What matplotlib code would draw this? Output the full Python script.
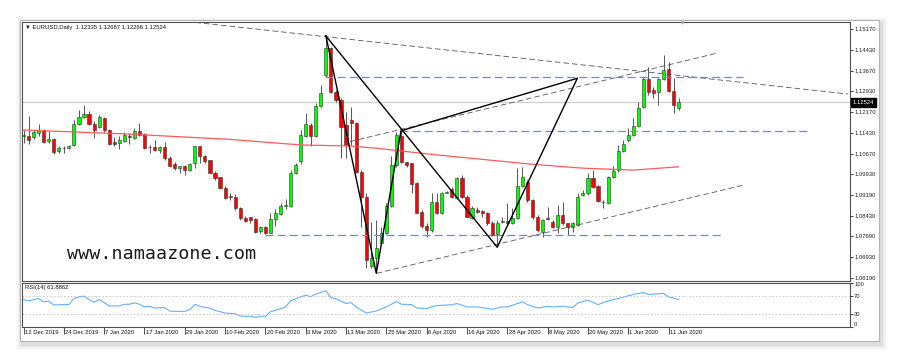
import matplotlib
matplotlib.use("Agg")
import matplotlib.pyplot as plt
from matplotlib import patches, transforms

plt.rcParams['font.family'] = ['Liberation Sans', 'DejaVu Sans']
plt.rcParams['lines.scale_dashes'] = False

# EURUSD daily candles, bar 0 = 12 Dec 2019
opens = [1.1130, 1.1130, 1.1128, 1.1142, 1.1152, 1.1112, 1.1122, 1.1076, 1.1088, 1.1088,
         1.1098, 1.1174, 1.1200, 1.1212, 1.1176, 1.1164, 1.1196, 1.1153, 1.1108, 1.1105,
         1.1112, 1.1132, 1.1125, 1.1149, 1.1137, 1.1093, 1.1093, 1.1081, 1.1093, 1.1052,
         1.1030, 1.1017, 1.1022, 1.1008, 1.1032, 1.1094, 1.1059, 1.1044, 1.0999, 1.0982,
         1.0945, 1.0914, 1.0912, 1.0870, 1.0836, 1.0837, 1.0831, 1.0787, 1.0801, 1.0782,
         1.0830, 1.0849, 1.0878, 1.0880, 1.0999, 1.1040, 1.1131, 1.1171, 1.1131, 1.1240,
         1.1352, 1.1448, 1.1292, 1.1261, 1.1171, 1.1189, 1.1177, 1.1002, 1.0912, 1.0662,
         1.0689, 1.0745, 1.0779, 1.0879, 1.1027, 1.1130, 1.1036, 1.1033, 1.0960, 1.0858,
         1.0806, 1.0792, 1.0894, 1.0854, 1.0926, 1.0940, 1.0906, 1.0978, 1.0910, 1.0834,
         1.0864, 1.0861, 1.0854, 1.0818, 1.0777, 1.0819, 1.0825, 1.0816, 1.0834, 1.0951,
         1.0966, 1.0900, 1.0840, 1.0785, 1.0834, 1.0822, 1.0804, 1.0846, 1.0816, 1.0804,
         1.0810, 1.0918, 1.0924, 1.0978, 1.0950, 1.0894, 1.0890, 1.0982, 1.1008, 1.1078,
         1.1117, 1.1135, 1.1167, 1.1235, 1.1336, 1.1298, 1.1292, 1.1336, 1.1372, 1.1295,
         1.12335]
highs = [1.1154, 1.1202, 1.1154, 1.1176, 1.1156, 1.1148, 1.1124, 1.1096, 1.1094, 1.1100,
         1.1190, 1.1224, 1.1244, 1.1220, 1.1184, 1.1207, 1.1200, 1.1156, 1.1126, 1.1130,
         1.1144, 1.1142, 1.1160, 1.1177, 1.1141, 1.1100, 1.1116, 1.1096, 1.1108, 1.1058,
         1.1036, 1.1024, 1.1027, 1.1034, 1.1096, 1.1096, 1.1063, 1.1046, 1.1003, 1.0984,
         1.0950, 1.0924, 1.0922, 1.0876, 1.0842, 1.0840, 1.0834, 1.0806, 1.0806, 1.0852,
         1.0866, 1.0888, 1.0905, 1.1008, 1.1033, 1.1153, 1.1213, 1.1180, 1.1252, 1.1316,
         1.1493, 1.1454, 1.1298, 1.1267, 1.1219, 1.1237, 1.1183, 1.1008, 1.0924, 1.0822,
         1.0828, 1.0804, 1.0888, 1.1059, 1.1147, 1.1150, 1.1039, 1.1035, 1.0966, 1.0864,
         1.0816, 1.0924, 1.0924, 1.0930, 1.0934, 1.0948, 1.0984, 1.0990, 1.0918, 1.0878,
         1.0876, 1.0864, 1.0858, 1.0825, 1.0828, 1.0837, 1.0888, 1.0870, 1.1014, 1.1018,
         1.0972, 1.0902, 1.0846, 1.0830, 1.0876, 1.0828, 1.0882, 1.0894, 1.0818, 1.0822,
         1.0926, 1.0936, 1.0999, 1.1008, 1.0954, 1.0900, 1.0987, 1.1023, 1.1099, 1.1117,
         1.1159, 1.1195, 1.1255, 1.1346, 1.1382, 1.1310, 1.1340, 1.1424, 1.1400, 1.1340,
         1.12687]
lows = [1.1106, 1.1104, 1.1120, 1.1132, 1.1106, 1.1106, 1.1066, 1.1070, 1.1070, 1.1084,
        1.1094, 1.1172, 1.1196, 1.1171, 1.1124, 1.1160, 1.1147, 1.1100, 1.1094, 1.1084,
        1.1108, 1.1102, 1.1120, 1.1130, 1.1086, 1.1070, 1.1076, 1.1070, 1.1046, 1.1020,
        1.1008, 1.0998, 1.0991, 1.1004, 1.1015, 1.1034, 1.1034, 1.0998, 1.0974, 1.0938,
        1.0904, 1.0900, 1.0864, 1.0828, 1.0822, 1.0816, 1.0782, 1.0782, 1.0777, 1.0779,
        1.0806, 1.0846, 1.0866, 1.0876, 1.0994, 1.1030, 1.1129, 1.1095, 1.1129, 1.1235,
        1.1346, 1.1286, 1.1255, 1.1051, 1.1051, 1.1099, 1.0996, 1.0804, 1.0653, 1.0653,
        1.0635, 1.0743, 1.0777, 1.0876, 1.1021, 1.1033, 1.1021, 1.0924, 1.0852, 1.0798,
        1.0767, 1.0786, 1.0849, 1.0849, 1.0924, 1.0906, 1.0902, 1.0906, 1.0837, 1.0830,
        1.0852, 1.0840, 1.0810, 1.0770, 1.0729, 1.0816, 1.0810, 1.0813, 1.0830, 1.0948,
        1.0894, 1.0830, 1.0785, 1.0767, 1.0828, 1.0798, 1.0782, 1.0810, 1.0773, 1.0786,
        1.0806, 1.0914, 1.0918, 1.0942, 1.0894, 1.0870, 1.0888, 1.0978, 1.1002, 1.1075,
        1.1111, 1.1131, 1.1165, 1.1231, 1.1280, 1.1267, 1.1243, 1.1334, 1.1292, 1.1213,
        1.12266]
closes = [1.1136, 1.1118, 1.1144, 1.1152, 1.1110, 1.1122, 1.1074, 1.1089, 1.1087, 1.1096,
          1.1173, 1.1200, 1.1212, 1.1173, 1.1154, 1.1200, 1.1152, 1.1104, 1.1104, 1.1117,
          1.1136, 1.1128, 1.1149, 1.1134, 1.1089, 1.1090, 1.1080, 1.1092, 1.1050, 1.1023,
          1.1015, 1.1022, 1.1008, 1.1029, 1.1094, 1.1058, 1.1040, 1.0998, 1.0980, 1.0943,
          1.0908, 1.0910, 1.0870, 1.0834, 1.0825, 1.0828, 1.0785, 1.0801, 1.0779, 1.0830,
          1.0852, 1.0878, 1.0882, 1.0999, 1.1027, 1.1135, 1.1173, 1.1131, 1.1240, 1.1286,
          1.1448, 1.1292, 1.1261, 1.1165, 1.1099, 1.1177, 1.1002, 1.0912, 1.0683, 1.0689,
          1.0725, 1.0779, 1.0879, 1.1027, 1.1135, 1.1039, 1.1027, 1.0958, 1.0854, 1.0806,
          1.0792, 1.0894, 1.0854, 1.0926, 1.0930, 1.0910, 1.0978, 1.0910, 1.0840, 1.0870,
          1.0858, 1.0854, 1.0818, 1.0773, 1.0816, 1.0825, 1.0816, 1.0834, 1.0951, 1.0982,
          1.0900, 1.0837, 1.0791, 1.0828, 1.0830, 1.0804, 1.0846, 1.0816, 1.0804, 1.0818,
          1.0912, 1.0924, 1.0978, 1.0948, 1.0897, 1.0894, 1.0982, 1.1006, 1.1078, 1.1102,
          1.1135, 1.1167, 1.1231, 1.1336, 1.1292, 1.1288, 1.1336, 1.1370, 1.1295, 1.1245,
          1.12524]

# red moving average, sampled along the line
ma_bars = [0, 20, 41, 55, 65, 70, 82, 101, 111, 121, 130]
ma_vals = [1.1153, 1.1139, 1.1119, 1.1099, 1.1095, 1.1087, 1.1063, 1.1029, 1.1015, 1.1008, 1.1020]

# RSI(14) sampled along the line
rsi_bars = [0, 1, 3, 4, 5, 6, 8, 9, 10, 11, 12, 13, 14, 15, 16, 17, 19, 20, 21, 22,
            23, 24, 25, 26, 28, 29, 30, 32, 33, 34, 35, 37, 38, 40, 42, 43, 45, 46, 47, 48,
            49, 50, 52, 53, 54, 56, 57, 58, 60, 61, 62, 64, 65, 66, 68, 70, 72, 74, 75, 77,
            78, 80, 81, 82, 85, 86, 88, 90, 91, 93, 95, 96, 99, 100, 102, 104, 105, 107, 109, 110,
            112, 114, 116, 118, 120, 121, 123, 124, 127, 128, 130]
rsi_vals = [61.7, 58.7, 64.0, 56.4, 58.0, 49.6, 50.4, 50.4, 64.0, 67.8, 69.3, 61.7, 55.7, 61.7, 54.9, 47.3, 47.3, 51.1, 51.1, 54.2,
            51.1, 45.1, 46.6, 42.8, 43.6, 36.0, 35.2, 35.2, 39.0, 51.1, 46.6, 42.0, 37.5, 31.4, 29.9, 24.6, 23.9, 21.6, 23.9, 23.9,
            34.5, 37.5, 45.1, 58.7, 63.3, 71.6, 67.8, 73.9, 81.4, 66.3, 63.3, 52.7, 54.9, 45.1, 31.4, 36.0, 45.1, 57.2, 51.1, 50.4,
            42.8, 41.3, 45.1, 48.1, 50.0, 52.7, 45.1, 45.1, 43.6, 39.8, 45.1, 45.1, 56.4, 50.4, 42.8, 46.6, 45.1, 46.6, 43.6, 54.2,
            60.2, 50.4, 58.7, 64.0, 70.1, 73.1, 77.7, 73.1, 75.4, 67.8, 61.9]

date_labels = ['12 Dec 2019', '24 Dec 2019', '7 Jan 2020', '17 Jan 2020', '29 Jan 2020',
               '10 Feb 2020', '20 Feb 2020', '3 Mar 2020', '13 Mar 2020', '25 Mar 2020',
               '6 Apr 2020', '16 Apr 2020', '28 Apr 2020', '8 May 2020', '20 May 2020',
               '1 Jun 2020', '11 Jun 2020']
price_ticks = [1.0619, 1.0693, 1.0769, 1.0843, 1.0919, 1.0993, 1.1067,
               1.1143, 1.1217, 1.1293, 1.1367, 1.1443, 1.1517]

# drawings on the chart (bar, price)
dashed_trends = [((34.1, 1.1542), (163.6, 1.1283)),
                 ((64.8, 1.1111), (137.9, 1.1432)),
                 ((70.1, 1.0635), (142.9, 1.0954))]
levels = [(1.13456, 59.9, 142.8), (1.11493, 74.8, 155.7), (1.07734, 48.0, 138.8)]
pattern_bars = [60, 70, 74.9, 109.9, 94, 60]
pattern_prices = [1.1493, 1.0635, 1.1150, 1.1340, 1.0729, 1.1493]
last_price = 1.12524

W, H = 900, 363
fig = plt.figure(figsize=(W / 100, H / 100), dpi=100, facecolor='white')

def fr(x0, y0, x1, y1):
    # pixel box (top-left origin) -> figure fraction rect
    return [x0 / W, 1 - y1 / H, (x1 - x0) / W, (y1 - y0) / H]

# soft window shadow and frame
for i, a in enumerate([0.025, 0.03, 0.035, 0.04]):
    g = 6 - i * 1.5
    r = fr(20 - g + 2, 20 - g + 3, 879 + g + 2, 341 + g + 3)
    fig.add_artist(patches.Rectangle(r[:2], r[2], r[3], transform=fig.transFigure,
                                     fc='black', ec='none', alpha=a, zorder=-20))
r = fr(20, 20, 879, 341)
fig.add_artist(patches.Rectangle(r[:2], r[2], r[3], transform=fig.transFigure,
                                 fc='white', ec='#b4b4b4', lw=0.8, zorder=-10))

ax = fig.add_axes(fr(22, 22, 850, 281))
axr = fig.add_axes(fr(22, 282.5, 850, 327))

n = len(opens)
bars = list(range(n))

# candles
for i in bars:
    o, h, l, c = opens[i], highs[i], lows[i], closes[i]
    ax.vlines(i, l, h, color='#555555', lw=0.7, zorder=2)
    col = '#00ff00' if c >= o else '#ff0000'
    ax.bar(i, max(abs(c - o), 0.00002), bottom=min(o, c), width=0.62,
           color=col, edgecolor='#303030', lw=0.4, zorder=3)

ax.axhline(last_price, color='#cfcfcf', lw=0.9, zorder=1)
ax.plot(ma_bars, ma_vals, color='#ff5a5a', lw=0.9, zorder=4)

for (b0, p0), (b1, p1) in dashed_trends:
    ax.plot([b0, b1], [p0, p1], color='#555555', lw=0.6, dashes=(4.0, 2.2), zorder=5)
for p, b0, b1 in levels:
    ax.plot([b0, b1], [p, p], color='#7d7dff', lw=0.9, dashes=(5.8, 2.9), zorder=5)
ax.plot(pattern_bars, pattern_prices, color='black', lw=1.0, zorder=6)

ax.set_xlim(-0.3, 164.0)
ax.set_ylim(1.06071, 1.15434)
ax.set_xticks([])
ax.yaxis.tick_right()
ax.set_yticks(price_ticks)
ax.set_yticklabels(['%.5f' % p for p in price_ticks])
ax.tick_params(axis='y', length=2, width=0.6, pad=1, labelsize=4.2, colors='#222222')
for s in ax.spines.values():
    s.set_color('#505050')
    s.set_linewidth(0.8)

blend = transforms.blended_transform_factory(ax.transAxes, ax.transData)
ax.text(1.003, last_price, '1.12524', transform=blend, ha='left', va='center',
        color='white', fontsize=4.2,
        bbox=dict(boxstyle='square,pad=0.3', fc='black', ec='black'))
ax.text(0.004, 0.9795, '\u25bc EURUSD,Daily  1.12335 1.12687 1.12266 1.12524',
        transform=ax.transAxes, ha='left', va='center', fontsize=4.2, color='#111111')
fig.text(683 / W, 1 - 23.5 / H, '\u25bc', fontsize=4, color='#a0a0a0', ha='center', va='center')

fig.text(66.7 / W, 1 - 254 / H, 'www.namaazone.com', family='DejaVu Sans Mono',
         fontsize=13.2, color='#1a1a1a', ha='left', va='center')

# RSI panel
axr.plot(rsi_bars, rsi_vals, color='#63b1ff', lw=0.8)
for lv in (70, 30):
    axr.axhline(lv, color='#bdbdbd', lw=0.6, ls=(0, (1, 1.5)))
axr.set_xlim(-0.3, 164.0)
axr.set_ylim(0, 100)
axr.yaxis.tick_right()
axr.set_yticks([0, 30, 70, 100])
axr.set_yticklabels(['0', '30', '70', '100'])
axr.tick_params(axis='y', length=2, width=0.6, pad=1, labelsize=4.2, colors='#222222')
tl = axr.get_yticklabels()
tl[0].set_va('bottom')
tl[3].set_va('top')
date_bars = list(range(0, 8 * len(date_labels), 8))
axr.set_xticks(date_bars)
axr.set_xticklabels([])
axr.tick_params(axis='x', direction='out', length=5, width=0.6, color='#333333')
tr = transforms.offset_copy(transforms.blended_transform_factory(axr.transData, axr.transAxes),
                            fig=fig, x=1.2, y=-5.8, units='dots')
for b, lab in zip(date_bars, date_labels):
    axr.text(b, 0, lab, transform=tr, ha='left', va='center', fontsize=4.2, color='#111111')
axr.text(0.004, 0.89, 'RSI(14) 61.8862', transform=axr.transAxes, ha='left', va='center',
         fontsize=4.2, color='#111111')
for s in axr.spines.values():
    s.set_color('#505050')
    s.set_linewidth(0.8)

fig.savefig('out.png', dpi=100, facecolor='white')
